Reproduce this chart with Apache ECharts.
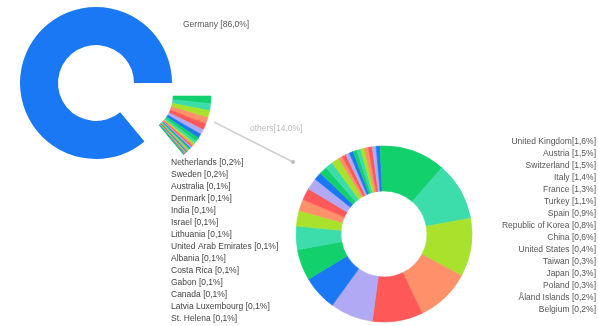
<!DOCTYPE html>
<html>
<head>
<meta charset="utf-8">
<script src="https://cdn.jsdelivr.net/npm/echarts@6/dist/echarts.min.js"></script>
<style>
html,body{margin:0;padding:0;background:#fff;}
#chart{width:598px;height:326px;}
</style>
</head>
<body>
<div id="chart"></div>
<script>
// ---- data ----
const mainNames = ['Germany', 'others'];
const mainValues = [86.0, 14.0];

const otherNames = [
  'United Kingdom', 'Austria', 'Switzerland', 'Italy', 'France', 'Turkey', 'Spain',
  'Republic of Korea', 'China', 'United States', 'Taiwan', 'Japan', 'Poland',
  'Åland Islands', 'Belgium', 'Netherlands', 'Sweden', 'Australia', 'Denmark',
  'India', 'Israel', 'Lithuania', 'United Arab Emirates', 'Albania', 'Costa Rica',
  'Gabon', 'Canada', 'Latvia Luxembourg', 'St. Helena'
];
const otherValues = [
  1.6, 1.5, 1.5, 1.4, 1.3, 1.1, 0.9,
  0.8, 0.6, 0.4, 0.3, 0.3, 0.3,
  0.2, 0.2, 0.2, 0.2, 0.1, 0.1,
  0.1, 0.1, 0.1, 0.1, 0.1, 0.1,
  0.1, 0.1, 0.1, 0.1
];
const rightLabelCount = 15;
const noSpaceNames = ['United Kingdom', 'others'];

// ---- styles ----
const palette = ['#12d06c', '#3cdcab', '#a9e22c', '#ff916a', '#ff5858', '#b2a9f4', '#1a78f4'];
const mainBlue = '#1a78f4';
const fontFamily = 'Liberation Sans, Arial, sans-serif';
const fs = 8.5;

function fmt(name, v) {
  const sep = noSpaceNames.indexOf(name) >= 0 ? '' : ' ';
  return name + sep + '[' + v.toFixed(1).replace('.', ',') + '%]';
}
function sliceStyle(i) {
  const c = palette[i % palette.length];
  return {color: c, borderColor: c, borderWidth: 0.6};
}

const chart = echarts.init(document.getElementById('chart'), null, {renderer: 'canvas'});

const mainCenter = [96, 83];
const fanCenter = [135, 96];
const otherCenter = [384, 234];
const noBorder = {borderWidth: 0, borderColor: 'transparent'};

const option = {
  animation: false,
  series: [
    {
      type: 'pie',
      name: 'main',
      center: mainCenter,
      radius: [38, 76],
      startAngle: 0,
      clockwise: false,
      avoidLabelOverlap: false,
      silent: true,
      emphasis: {disabled: true},
      itemStyle: noBorder,
      labelLine: {show: false},
      label: {
        show: true,
        fontSize: fs,
        fontFamily: fontFamily,
        color: '#555',
        formatter: p => fmt(p.name, p.value)
      },
      labelLayout: function (p) {
        if (p.dataIndex === 0) {
          return {x: 183, y: 25, align: 'left', verticalAlign: 'middle'};
        }
        return {x: 250, y: 129, align: 'left', verticalAlign: 'middle'};
      },
      data: mainNames.map((n, i) => ({
        name: n,
        value: mainValues[i],
        itemStyle: {color: i === 0 ? mainBlue : 'rgba(0,0,0,0)'},
        label: i === 0 ? {} : {color: '#bbb'}
      }))
    },
    {
      type: 'pie',
      name: 'fan',
      center: fanCenter,
      radius: [38, 76],
      startAngle: 0,
      clockwise: true,
      silent: true,
      emphasis: {disabled: true},
      itemStyle: noBorder,
      label: {show: false},
      labelLine: {show: false},
      data: otherNames.map((n, i) => ({name: n, value: otherValues[i], itemStyle: sliceStyle(i)})).concat([
        {name: mainNames[0], value: mainValues[0], itemStyle: {color: 'rgba(0,0,0,0)', borderWidth: 0}}
      ])
    },
    {
      type: 'pie',
      name: 'others',
      center: otherCenter,
      radius: [43, 88],
      startAngle: 90,
      clockwise: true,
      avoidLabelOverlap: false,
      silent: true,
      emphasis: {disabled: true},
      labelLine: {show: false},
      label: {
        show: true,
        fontSize: fs,
        fontFamily: fontFamily,
        color: '#555',
        formatter: p => fmt(p.name, p.value)
      },
      labelLayout: function (p) {
        const i = p.dataIndex;
        if (i < rightLabelCount) {
          return {x: 596, y: 142 + i * 12, align: 'right', verticalAlign: 'middle'};
        }
        return {x: 171, y: 163 + (i - rightLabelCount) * 12, align: 'left', verticalAlign: 'middle'};
      },
      data: otherNames.map((n, i) => ({
        name: n,
        value: otherValues[i],
        itemStyle: sliceStyle(i),
        label: i < rightLabelCount ? {} : {color: '#444'}
      }))
    }
  ],
  graphic: [
    {
      type: 'line',
      shape: {x1: 214, y1: 122, x2: 293, y2: 162},
      style: {stroke: '#d0d0d0', lineWidth: 1.5},
      silent: true
    },
    {
      type: 'circle',
      shape: {cx: 293, cy: 162, r: 2},
      style: {fill: '#bbbbbb'},
      silent: true
    }
  ]
};
chart.setOption(option);
</script>
</body>
</html>
